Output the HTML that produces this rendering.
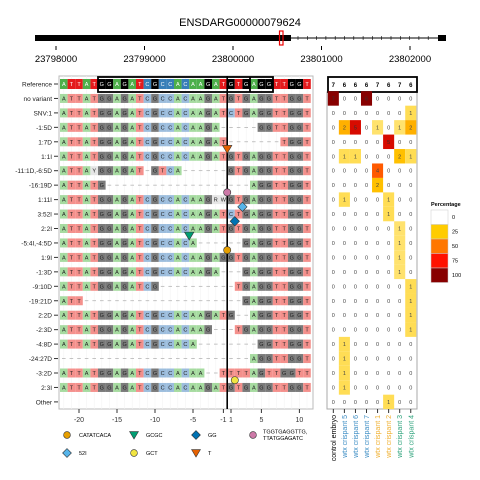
<!DOCTYPE html>
<html><head><meta charset="utf-8"><style>
html,body{margin:0;padding:0;background:#fff;width:480px;height:480px;overflow:hidden}
svg{font-family:"Liberation Sans",sans-serif}
</style></head><body>
<svg id="c" width="480" height="480" viewBox="0 0 480 480">
<text x="240" y="26" text-anchor="middle" font-size="11">ENSDARG00000079624</text>
<g id="gene"></g>
<g id="left"></g>
<g id="right"></g>
<g id="legend"></g>
</svg>
<script>
const rowLabels=["Reference","no variant","SNV:1","-1:5D","1:7D","1:1I","-11:1D,-6:5D","-16:19D","1:11I","3:52I","2:2I","-5:4I,-4:5D","1:9I","-1:3D","-9:10D","-19:21D","2:2D","-2:3D","-4:8D","-24:27D","-3:2D","2:3I","Other"];
const seqs=[
"ATTATGGAGATCGCCACAAGATGTGAGGTTGGT",
"ATTATGGAGATCGCCACAAGATGTGAGGTTGGT",
"ATTATGGAGATCGCCACAAGATCTGAGGTTGGT",
"ATTATGGAGATCGCCACAAGA-----GGTTGGT",
"ATTATGGAGATCGCCACAAGAT-------TGGT",
"ATTATGGAGATCGCCACAAGATGTGAGGTTGGT",
"ATTAYGGAGAT-GTCA------GTGAGGTTGGT",
"ATTATG-------------------AGGTTGGT",
"ATTATGGAGATCGCCACAAGRWGTGAGGTTGGT",
"ATTATGGAGATCGCCACAAGATCTGAGGTTGGT",
"ATTATGGAGATCGCCACAAGATGTGAGGTTGGT",
"ATTATGGAGATCGCCACA------GAGGTTGGT",
"ATTATGGAGATCGCCACAAGAGGTGAGGTTGGT",
"ATTATGGAGATCGCCACAAGA---GAGGTTGGT",
"ATTATGGAGATCG----------TGAGGTTGGT",
"ATT---------------------GAGGTTGGT",
"ATTATGGAGATCGCCACAAGATG--AGGTTGGT",
"ATTATGGAGATCGCCACAAG---TGAGGTTGGT",
"ATTATGGAGATCGCCACA--------GGTTGGT",
"-------------------------AGGTTGGT",
"ATTATGGAGATCGCCACAA--TTTTAGTTGGTT",
"ATTATGGAGATCGCCACAAGATGTGAGGTTGGT",
"                                 "];
const sampleNames=["control embryo","wtx crispant 5","wtx crispant 6","wtx crispant 7","wtx crispant 1","wtx crispant 2","wtx crispant 3","wtx crispant 4"];
const sampleTotals=[7,6,6,6,7,6,7,6];
const counts=[
[7,0,0,6,0,0,0,0],[0,0,0,0,0,0,0,1],[0,2,5,0,1,0,1,2],[0,0,0,0,0,5,0,0],[0,1,1,0,0,0,2,1],
[0,0,0,0,4,0,0,0],[0,0,0,0,2,0,0,0],[0,1,0,0,0,1,0,0],[0,0,0,0,0,1,0,0],[0,0,0,0,0,0,1,0],
[0,0,0,0,0,0,1,0],[0,0,0,0,0,0,1,0],[0,0,0,0,0,0,1,0],[0,0,0,0,0,0,0,1],[0,0,0,0,0,0,0,1],
[0,0,0,0,0,0,0,1],[0,0,0,0,0,0,0,1],[0,1,0,0,0,0,0,0],[0,1,0,0,0,0,0,0],[0,1,0,0,0,0,0,0],
[0,1,0,0,0,0,0,0],[0,0,0,0,0,1,0,0]];
const xTicks=[-20,-15,-10,-5,-1,1,5,10];
const genomeTicks=[23798000,23799000,23800000,23801000,23802000];
const insMarkers=[{row:5,pos:0,shape:"tri",col:"#E66101",label:"T"},{row:8,pos:0,shape:"circ",col:"#CC79A7",label:"TGGTGAGGTTG, TTATGGAGATC"},
{row:9,pos:2,shape:"dia",col:"#56B4E9",label:"52I"},{row:10,pos:1,shape:"dia",col:"#0072B2",label:"GG"},
{row:11,pos:-5,shape:"tri",col:"#009E73",label:"GCGC"},{row:12,pos:0,shape:"circ",col:"#E69F00",label:"CATATCACA"},
{row:21,pos:1,shape:"circ",col:"#F0E442",label:"GCT"}];
const legendOrder=[12,11,10,8,9,21,5];

const NS="http://www.w3.org/2000/svg";
function mk(tag,attrs,parent,txt){const e=document.createElementNS(NS,tag);for(const k in attrs)e.setAttribute(k,attrs[k]);if(txt!==undefined)e.textContent=txt;parent.appendChild(e);return e;}
const X0=60,CW=7.6,Y0=84,RH=14.45;
function colOf(p){return p<0?p+22:p+21;}
function xPos(p){return X0+(colOf(p)+0.5)*CW;}
function xBound(p){return X0+(p+22)*CW;}
function yRow(r){return Y0+r*RH;}

const gene=document.getElementById('gene');
const gx=v=>56+(v-23798000)*(410-56)/4000;
mk('rect',{x:35,y:35,width:256,height:6,fill:'#000'},gene);
mk('line',{x1:291,y1:38,x2:440,y2:38,stroke:'#000','stroke-width':1},gene);
for(let x=298;x<436;x+=9.3)mk('line',{x1:x,y1:36,x2:x,y2:40,stroke:'#000','stroke-width':0.6},gene);
mk('rect',{x:438,y:35,width:8,height:6,fill:'#000'},gene);
mk('rect',{x:279.5,y:31,width:3.5,height:14,fill:'none',stroke:'#e00','stroke-width':1.2},gene);
genomeTicks.forEach(t=>{const x=gx(t);mk('line',{x1:x,y1:46,x2:x,y2:50,stroke:'#000'},gene);
const tx=mk('text',{x:x,y:62,'text-anchor':'middle','font-size':9.5},gene,String(t));

});

const L=document.getElementById('left');
mk('rect',{x:59,y:76,width:254,height:333,fill:'#fff',stroke:'#bbb','stroke-width':1},L);
for(let i=0;i<33;i++)mk('line',{x1:X0+(i+0.5)*CW,y1:76,x2:X0+(i+0.5)*CW,y2:409,stroke:'#f2f2f2','stroke-width':0.5},L);
const refCol={A:'#4DAF4A',T:'#E41A1C',G:'#000000',C:'#377EB8'};
const varCol={A:'#A6DBA0',T:'#F4908C',G:'#7A7A7A',C:'#9CBDDD',R:'#e6e6e6',W:'#e6e6e6',Y:'#e6e6e6'};
seqs.forEach((s,r)=>{
 const y=yRow(r);const isRef=r===0;const h=isRef?10:9;
 const lab=mk('text',{x:52,y:y+2.5,'text-anchor':'end','font-size':6.5,fill:'#222'},L,rowLabels[r]);
 
 
 mk('line',{x1:54,y1:y,x2:58,y2:y,stroke:'#333','stroke-width':1},L);
 for(let i=0;i<s.length;i++){const ch=s[i];const x=X0+i*CW;
  if(ch===' ')continue;
  if(ch==='-'){mk('line',{x1:x+2,y1:y,x2:x+CW-2,y2:y,stroke:'#aaa','stroke-width':0.7},L);continue;}
  const t=mk('rect',{x:x,y:y-h/2,width:CW,height:h,fill:(isRef?refCol:varCol)[ch]},L);
  
  
  mk('text',{x:x+CW/2,y:y+2,'text-anchor':'middle','font-size':5.5,fill:isRef?'#fff':'#222'},L,ch);
 }
});
mk('rect',{x:98,y:77,width:175,height:15,fill:'none',stroke:'#000','stroke-width':1.8},L);
mk('line',{x1:250,y1:77,x2:250,y2:92,stroke:'#000','stroke-width':1.8},L);
mk('line',{x1:227.2,y1:76,x2:227.2,y2:409,stroke:'#000','stroke-width':1.6},L);
xTicks.forEach(p=>{const x=xPos(p);mk('line',{x1:x,y1:409,x2:x,y2:413,stroke:'#333'},L);
 const t=mk('text',{x:x,y:422,'text-anchor':'middle','font-size':7,fill:'#333'},L,String(p));
 
 });
function marker(g,shape,x,y,col,s){
 if(shape==='circ')return mk('circle',{cx:x,cy:y,r:s,fill:col,stroke:'#333','stroke-width':0.6},g);
 if(shape==='dia')return mk('polygon',{points:`${x},${y-s*1.3} ${x+s*1.3},${y} ${x},${y+s*1.3} ${x-s*1.3},${y}`,fill:col,stroke:'#333','stroke-width':0.6},g);
 return mk('polygon',{points:`${x-s*1.3},${y-s} ${x+s*1.3},${y-s} ${x},${y+s*1.2}`,fill:col,stroke:'#333','stroke-width':0.6},g);
}
insMarkers.forEach(m=>{const x=xBound(m.pos);const y=yRow(m.row)-RH*0.5;
 const e=marker(L,m.shape,x,y,m.col,3.6);
 
 });

const R=document.getElementById('right');
const HX=327.8,HW=11.06;
mk('rect',{x:327,y:92,width:90,height:317,fill:'#fff',stroke:'#aaa','stroke-width':1},R);
mk('rect',{x:328,y:77,width:89,height:15,fill:'#fff',stroke:'#000','stroke-width':1.8},R);
function pctColor(p){const stops=[[0,[255,255,255]],[25,[255,204,0]],[50,[255,119,0]],[75,[255,17,0]],[100,[136,0,0]]];
 for(let i=1;i<stops.length;i++){if(p<=stops[i][0]){const a=stops[i-1],b=stops[i],f=(p-a[0])/(b[0]-a[0]);
 return 'rgb('+a[1].map((v,k)=>Math.round(v+(b[1][k]-v)*f)).join(',')+')';}}return 'rgb(136,0,0)';}
sampleTotals.forEach((t,j)=>{const x=HX+(j+0.5)*HW;
 const e=mk('text',{x:x,y:87,'text-anchor':'middle','font-size':6,'font-weight':'bold'},R,String(t));
 
 });
counts.forEach((row,i)=>{const y=yRow(i+1);row.forEach((v,j)=>{const x=HX+j*HW;const p=v/sampleTotals[j]*100;
 if(v>0){const c=mk('rect',{x:x,y:y-RH/2,width:HW,height:RH,fill:pctColor(p)},R);
 
 }
 mk('text',{x:x+HW/2,y:y+2,'text-anchor':'middle','font-size':5.5,fill:p>60?'#333':'#444'},R,String(v));});});
const sCols=['#000','#3C8DC4','#3C8DC4','#3C8DC4','#F0B030','#F0B030','#2EA37C','#2EA37C'];
sampleNames.forEach((n,j)=>{const x=HX+(j+0.5)*HW;mk('line',{x1:x,y1:409,x2:x,y2:413,stroke:'#333'},R);
 const t=mk('text',{x:0,y:0,'text-anchor':'end','font-size':7,fill:sCols[j],transform:`translate(${x+2.5},415) rotate(-90)`},R,n);
 
 });

const G=document.getElementById('legend');
mk('text',{x:431,y:206,'font-size':5.5,'font-weight':'bold'},G,'Percentage');
[0,25,50,75,100].forEach((p,i)=>{const y=210+i*14.5;
 const r=mk('rect',{x:431,y:y,width:17,height:14.5,fill:pctColor(p),stroke:'#ccc','stroke-width':0.5},G);
 
 
 mk('text',{x:452,y:y+9,'font-size':5.5},G,String(p));});
const legPos=[[67,435],[134,435],[196,435],[253,435],[67,453],[134,453],[196,453]];
legendOrder.forEach((ri,k)=>{const m=insMarkers.find(q=>q.row===ri);const [x,y]=legPos[k];
 const e=marker(G,m.shape,x,y,m.col,3.4);
 
 
 const parts=m.label.split(', ');
 if(parts.length>1){mk('text',{x:x+10,y:y-1.5,'font-size':5.5},G,parts[0]+',');mk('text',{x:x+10,y:y+5,'font-size':5.5},G,parts[1]);}
 else mk('text',{x:x+12,y:y+2,'font-size':5.5},G,m.label);});
</script>
</body></html>
